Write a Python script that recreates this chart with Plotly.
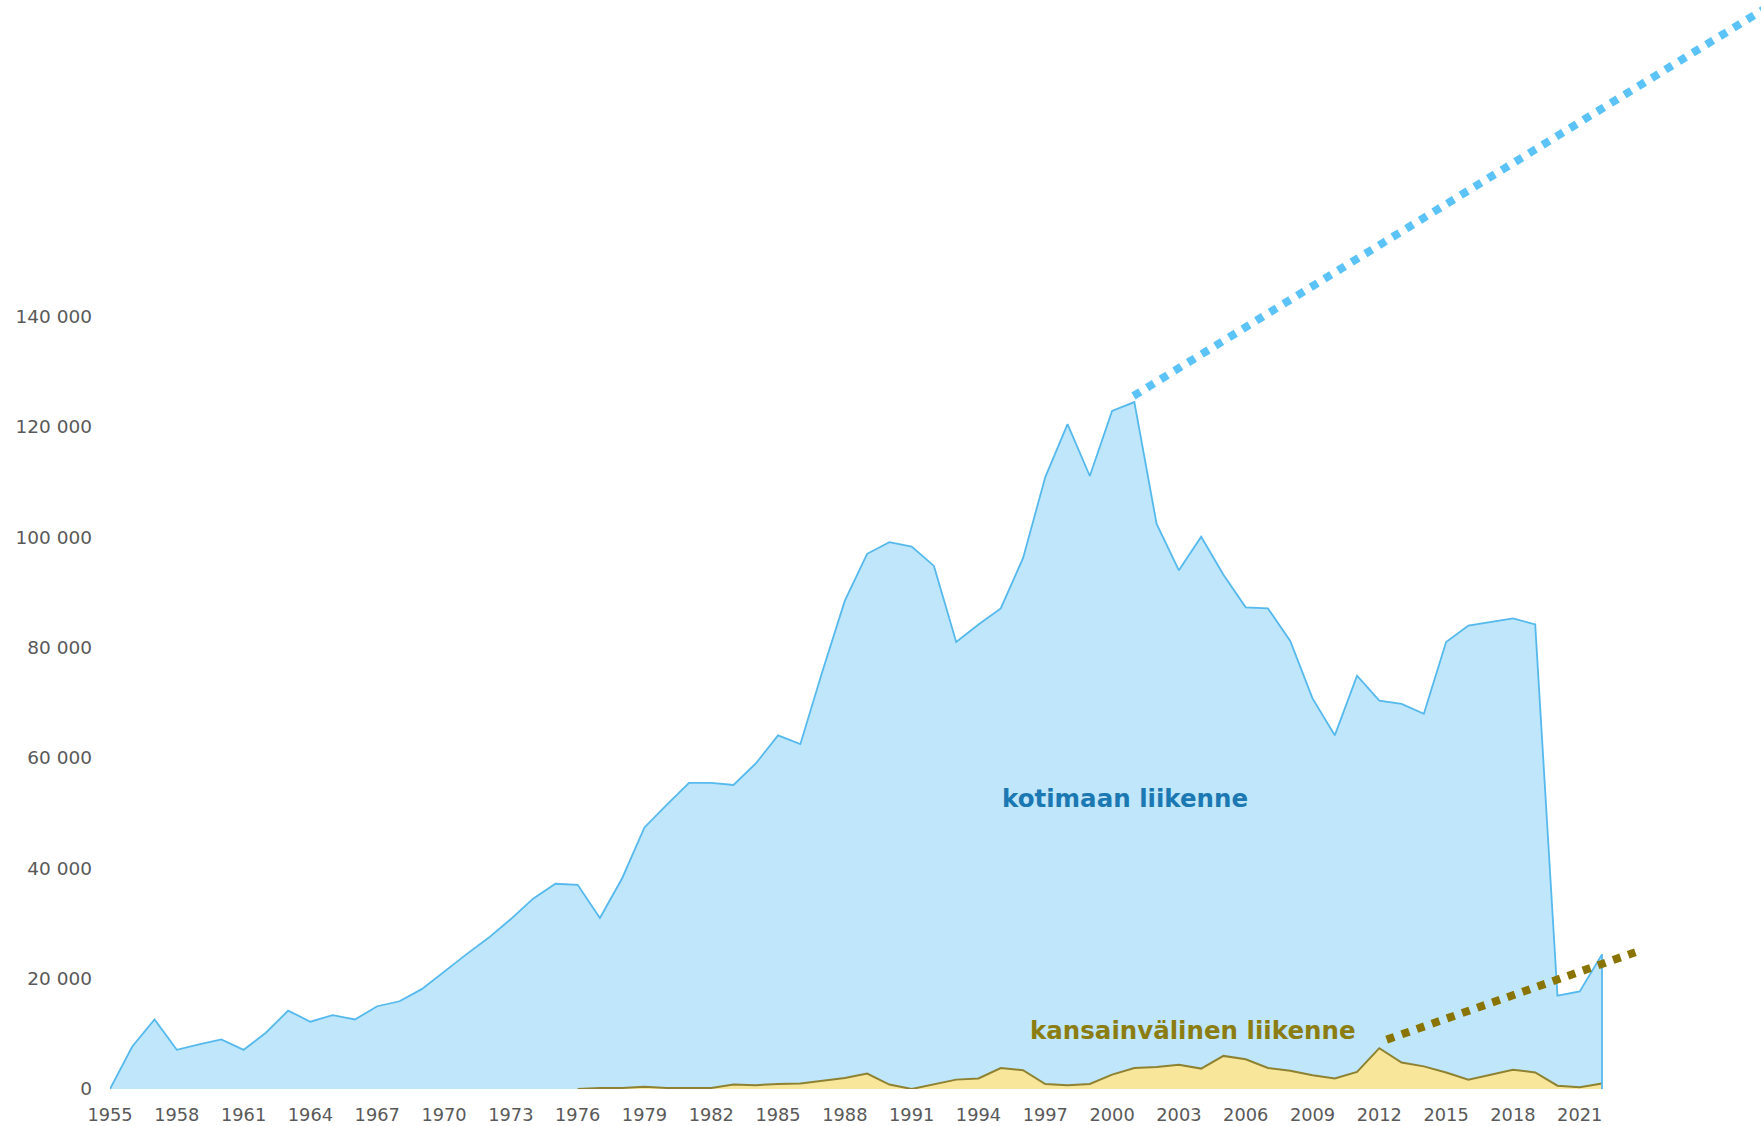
import plotly.graph_objects as go

# Matkustajamäärät vuosittain (1955–2022)
years = list(range(1955, 2023))

domestic = [
    0, 7700, 12600, 7100, 8100, 9000, 7100, 10200, 14200, 12200,
    13400, 12600, 15000, 15900, 18100, 21300, 24400, 27400, 30800, 34500,
    37200, 37000, 31000, 38200, 47400, 51500, 55500, 55500, 55100, 59000,
    64100, 62500, 75800, 88500, 97000, 99100, 98300, 94800, 81000, 84200,
    87100, 96200, 110900, 120500, 111100, 122900, 124500, 102400, 94000, 100100,
    93200, 87300, 87100, 81200, 70800, 64100, 74900, 70400, 69800, 68000,
    81000, 84000, 84700, 85300, 84200, 16900, 17700, 24400,
]

international = [None] * 21 + [
    0, 200, 200, 400, 200, 200, 200, 800, 700,
    900, 1000, 1500, 2000, 2800, 800, 0, 900, 1700, 1900,
    3800, 3400, 900, 700, 900, 2600, 3800, 4000, 4400, 3700,
    6000, 5400, 3800, 3300, 2500, 1900, 3100, 7400, 4800, 4100,
    3000, 1700, 2600, 3500, 3000, 600, 300, 1000,
]

# Trendiviivat (alku- ja loppupiste)
trend_dom_years = [2000.96, 2030.0]
trend_dom_values = [125600, 197500]
trend_int_years = [2012.33, 2023.5]
trend_int_values = [8950, 24800]

x_tick_years = list(range(1955, 2022, 3))
y_tick_values = list(range(0, 140001, 20000))
y_tick_text = [f"{v:,}".replace(",", " ") for v in y_tick_values]

label_dom = "kotimaan liikenne"
label_int = "kansainvälinen liikenne"

BLUE_LINE = "#55B9EE"
BLUE_FILL = "#BFE6FA"
BLUE_TREND = "#5BC3F8"
BLUE_TEXT = "#1B78B2"
OLIVE_LINE = "#8E8232"
YELLOW_FILL = "#F8E79A"
OLIVE_TREND = "#8A7400"
OLIVE_TEXT = "#8C7D12"
AXIS_TEXT = "#595959"

fig = go.Figure()

fig.add_trace(go.Scatter(
    x=years, y=domestic, mode="lines", fill="tozeroy",
    line=dict(color=BLUE_LINE, width=1.8), fillcolor=BLUE_FILL,
    hoverinfo="x+y", showlegend=False,
))
fig.add_trace(go.Scatter(
    x=years, y=international, mode="lines", fill="tozeroy",
    line=dict(color=OLIVE_LINE, width=2), fillcolor=YELLOW_FILL,
    hoverinfo="x+y", showlegend=False,
))

# Alueen oikea reuna viimeisen vuoden kohdalla
fig.add_trace(go.Scatter(
    x=[years[-1], years[-1]], y=[0, domestic[-1]], mode="lines",
    line=dict(color=BLUE_LINE, width=1.8), hoverinfo="skip", showlegend=False,
))

fig.add_trace(go.Scatter(
    x=trend_dom_years, y=trend_dom_values, mode="lines",
    line=dict(color=BLUE_TREND, width=8, dash="dot"),
    hoverinfo="skip", showlegend=False,
))
fig.add_trace(go.Scatter(
    x=trend_int_years, y=trend_int_values, mode="lines",
    line=dict(color=OLIVE_TREND, width=8, dash="dot"),
    hoverinfo="skip", showlegend=False,
))

# Vaaka-akselin viiva vain datan alueelle
fig.add_shape(
    type="line", xref="x", yref="y",
    x0=years[0], x1=years[-1], y0=0, y1=0,
    line=dict(color="#D9D9D9", width=2), layer="below",
)

fig.add_annotation(
    x=2000.6, y=52700, text=label_dom, showarrow=False,
    xanchor="center", yanchor="middle",
    font=dict(family="DejaVu Sans", size=24.5, color=BLUE_TEXT, weight="bold"),
)
fig.add_annotation(
    x=2003.62, y=10650, text=label_int, showarrow=False,
    xanchor="center", yanchor="middle",
    font=dict(family="DejaVu Sans", size=24.5, color=OLIVE_TEXT, weight="bold"),
)

fig.update_layout(
    width=1761, height=1126,
    margin=dict(l=110, r=0, t=0, b=37, autoexpand=False),
    plot_bgcolor="white", paper_bgcolor="white",
    font=dict(family="DejaVu Sans", color=AXIS_TEXT, size=17.5),
    xaxis=dict(
        range=[1955, 2029.14], tickmode="array", tickvals=x_tick_years,
        showgrid=False, zeroline=False, showline=False, ticks="",
        ticklabelstandoff=13, automargin=False,
        tickfont=dict(family="DejaVu Sans", size=17.8, color=AXIS_TEXT),
    ),
    yaxis=dict(
        range=[0, 197370], tickmode="array", tickvals=y_tick_values,
        ticktext=y_tick_text,
        showgrid=False, zeroline=False, showline=False, ticks="",
        ticklabelstandoff=17, automargin=False,
        tickfont=dict(family="DejaVu Sans", size=18.5, color=AXIS_TEXT),
    ),
)

fig.write_html("out.html")
